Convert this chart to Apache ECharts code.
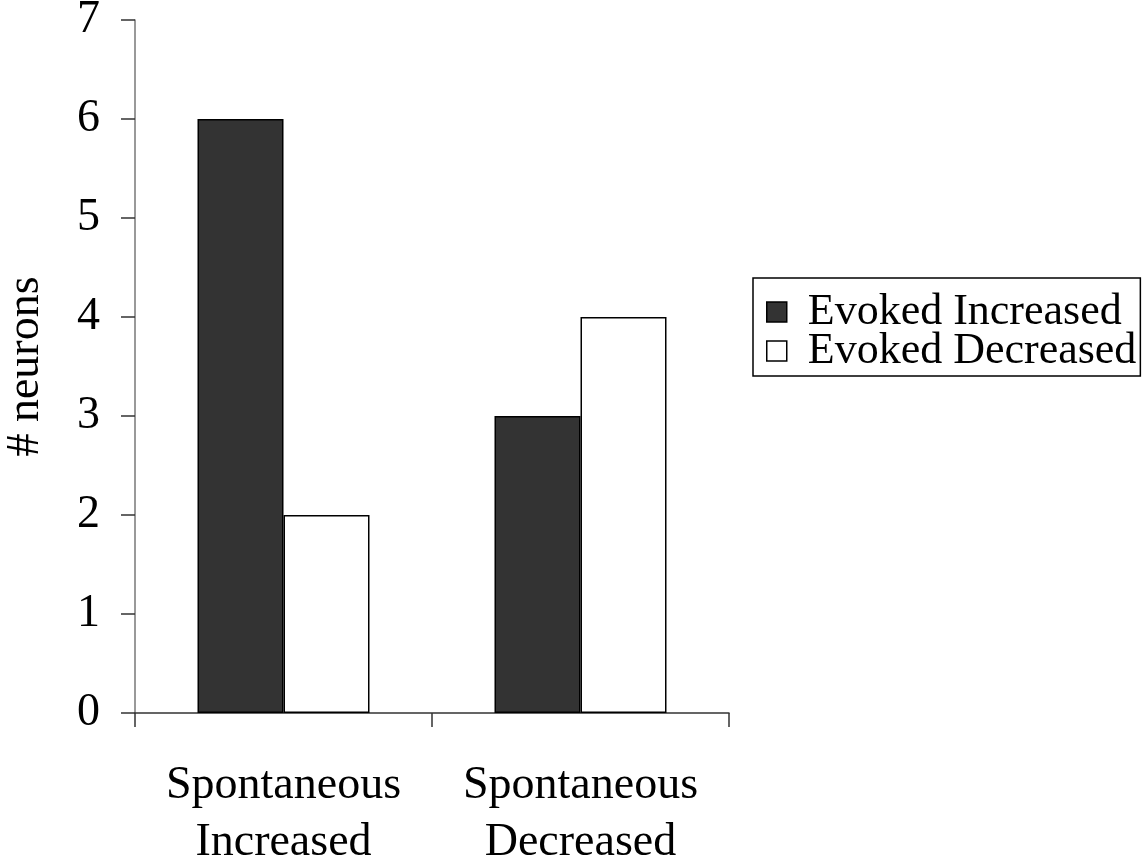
<!DOCTYPE html>
<html>
<head>
<meta charset="utf-8">
<script src="https://cdn.jsdelivr.net/npm/echarts@6/dist/echarts.min.js"></script>
<style>
html,body{margin:0;padding:0;background:#fff;}
#chart{width:1146px;height:865px;}
</style>
</head>
<body>
<div id="chart"></div>
<script>
const categories = ['Spontaneous\nIncreased', 'Spontaneous\nDecreased'];
const seriesNames = ['Evoked Increased', 'Evoked Decreased'];
const evokedIncreased = [6, 3];
const evokedDecreased = [2, 4];
const yTicks = [0, 1, 2, 3, 4, 5, 6, 7];

const FONT = 'Liberation Serif';
const chart = echarts.init(document.getElementById('chart'), null, {renderer: 'canvas'});
chart.setOption({
  animation: false,
  backgroundColor: '#ffffff',
  grid: {left: 135, right: 417, top: 20, bottom: 152, containLabel: false, outerBoundsMode: 'none'},
  legend: {
    orient: 'vertical',
    left: 753,
    top: 278,
    padding: [12, 4, 3, 13],
    itemGap: -5,
    itemWidth: 20,
    itemHeight: 20,
    icon: 'rect',
    borderColor: '#000',
    borderWidth: 1.5,
    backgroundColor: '#fff',
    data: seriesNames,
    textStyle: {fontFamily: FONT, fontSize: 44, color: '#000', padding: [0, 0, 0, 16]},
    itemStyle: {borderColor: '#000', borderWidth: 1.5}
  },
  xAxis: {
    type: 'category',
    data: categories,
    axisLine: {lineStyle: {color: '#333', width: 1.5}},
    axisTick: {show: true, interval: 0, length: 14, lineStyle: {color: '#333', width: 1.5}},
    axisLabel: {interval: 0, hideOverlap: false, fontFamily: FONT, fontSize: 46, color: '#000', lineHeight: 57, margin: 44}
  },
  yAxis: {
    type: 'value',
    min: 0,
    max: 7,
    interval: 1,
    name: '# neurons',
    nameLocation: 'middle',
    nameGap: 86,
    nameRotate: 90,
    nameTextStyle: {fontFamily: FONT, fontSize: 46, color: '#000'},
    splitLine: {show: false},
    axisLine: {show: true, lineStyle: {color: '#777', width: 1.5}},
    axisTick: {show: true, length: 14, lineStyle: {color: '#333', width: 1.5}},
    axisLabel: {
      fontFamily: FONT, fontSize: 46, color: '#000', margin: 35,
      formatter: v => yTicks.includes(v) ? String(v) : ''
    }
  },
  series: [
    {
      name: seriesNames[0], type: 'bar', data: evokedIncreased,
      barWidth: 86, barGap: '0%',
      itemStyle: {color: '#333333', borderColor: '#000', borderWidth: 1.5}
    },
    {
      name: seriesNames[1], type: 'bar', data: evokedDecreased,
      barWidth: 86, barGap: '0%',
      itemStyle: {color: '#ffffff', borderColor: '#000', borderWidth: 1.5}
    }
  ]
});
</script>
</body>
</html>
